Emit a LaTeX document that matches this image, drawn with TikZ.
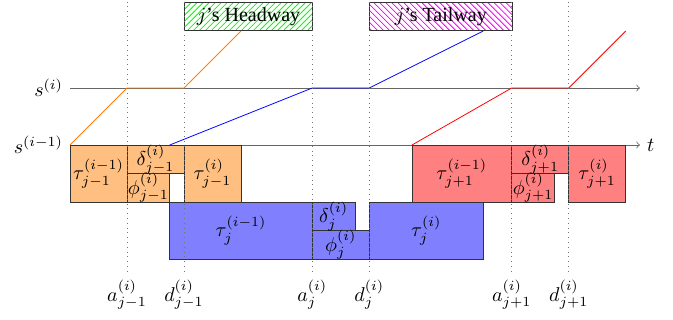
\documentclass[tikz,border=0pt]{standalone}
\usepackage[no-math]{fontspec}
\setmainfont{Liberation Serif}
\usetikzlibrary{patterns}
\tikzset{
  axisline/.style={->, black!60},
  boxline/.style={draw=black!80},
  vline/.style={black!55, dotted},
  tagbox/.style={draw=black!80, minimum width=#1, minimum height=0.5cm, inner sep=0pt, anchor=south west},
}
\begin{document}
\begin{tikzpicture}[x=1cm,y=1cm]
\useasboundingbox (-1.228,-3.07) rectangle (10.58,2.544);
% axes
\coordinate (o0) at (0,0);
\coordinate (o1) at (0,1);
\coordinate (e0) at (10,0);
\coordinate (e1) at (10,1);
\draw[axisline] (o1) -- (e1);
\draw[axisline] (o0) -- (e0);
\node[anchor=east] (si) at (o1) {$s^{(i)}$};
\node[anchor=east] (sim) at (o0) {$s^{(i-1)}$};
\node[anchor=west] (t) at (e0) {$t$};
% orange boxes
\draw[boxline, fill=orange!50] (0,0) rectangle (1,-1);
\draw[boxline, fill=orange!50] (1,0) rectangle (2,-0.5);
\draw[boxline, fill=orange!50] (1,-0.5) rectangle (1.75,-1);
\draw[boxline, fill=orange!50] (2,0) rectangle (3,-1);
\node (o1a) at (0.5,-0.5) {$\tau^{(i-1)}_{j-1}$};
\node (o1b) at (1.5,-0.25) {$\delta^{(i)}_{j-1}$};
\node (o1c) at (1.375,-0.75) {$\phi^{(i)}_{j-1}$};
\node (o1d) at (2.5,-0.5) {$\tau^{(i)}_{j-1}$};
% blue boxes
\draw[boxline, fill=blue!50] (1.75,-1) rectangle (4.25,-2);
\draw[boxline, fill=blue!50] (4.25,-1) rectangle (5,-1.5);
\draw[boxline, fill=blue!50] (4.25,-1.5) rectangle (5.25,-2);
\draw[boxline, fill=blue!50] (5.25,-1) rectangle (7.25,-2);
\node (b1a) at (3,-1.5) {$\tau^{(i-1)}_{j}$};
\node (b1b) at (4.625,-1.25) {$\delta^{(i)}_{j}$};
\node (b1c) at (4.75,-1.75) {$\phi^{(i)}_{j}$};
\node (b1d) at (6.25,-1.5) {$\tau^{(i)}_{j}$};
% red boxes
\draw[boxline, fill=red!50] (6,0) rectangle (7.75,-1);
\draw[boxline, fill=red!50] (7.75,0) rectangle (8.75,-0.5);
\draw[boxline, fill=red!50] (7.75,-0.5) rectangle (8.5,-1);
\draw[boxline, fill=red!50] (8.75,0) rectangle (9.75,-1);
\node (r1a) at (6.875,-0.5) {$\tau^{(i-1)}_{j+1}$};
\node (r1b) at (8.25,-0.25) {$\delta^{(i)}_{j+1}$};
\node (r1c) at (8.125,-0.75) {$\phi^{(i)}_{j+1}$};
\node (r1d) at (9.25,-0.5) {$\tau^{(i)}_{j+1}$};
% headway / tailway
\node[tagbox=2.25cm, pattern=north east lines, pattern color=green] (hw) at (2,2) {$j$'s Headway};
\node[tagbox=2.5cm, pattern=north west lines, pattern color=magenta] (tw) at (5.25,2) {$j$'s Tailway};
% trajectories
\draw[orange] (0,0) -- (1,1) -- (2,1) -- (3,2);
\draw[blue] (1.75,0) -- (4.25,1) -- (5.25,1) -- (7.25,2);
\draw[red] (6,0) -- (7.75,1) -- (8.75,1) -- (9.75,2);
% vertical dotted lines with labels
\foreach \x/\n [count=\k] in {1/a^{(i)}_{j-1},2/d^{(i)}_{j-1},4.25/a^{(i)}_{j},5.25/d^{(i)}_{j},7.75/a^{(i)}_{j+1},8.75/d^{(i)}_{j+1}}{
  \coordinate (vt\k) at (\x,2.6);
  \coordinate (vb\k) at (\x,-2.25);
  \draw[vline] (vt\k) -- (vb\k);
  \node[below] (vl\k) at (vb\k) {$\n$};
}
\end{tikzpicture}
\end{document}
